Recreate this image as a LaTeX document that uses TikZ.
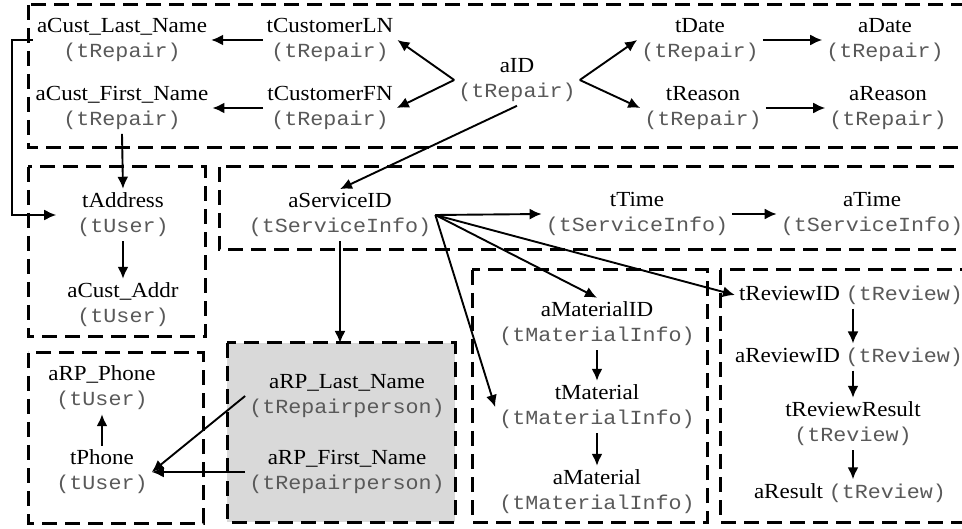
\documentclass[tikz,border=0pt]{standalone}
\usepackage{fontspec}
\setmainfont[FakeStretch=1.07]{Liberation Serif}
\setmonofont[FakeStretch=1.085]{Liberation Mono}
\usepackage{xcolor}
\usetikzlibrary{positioning,arrows.meta,calc}
\newcommand{\tbl}[1]{{\ttfamily\fontsize{20}{25}\selectfont\color{black!65}#1}}

\begin{document}
\begin{tikzpicture}[
  x=1pt,y=-1pt,
  >={Latex[length=12pt,width=11pt]},
  %--- node styles ---
  attr/.style   ={font=\fontsize{21.5}{25}\selectfont,text=black,align=center,inner sep=4pt},
  grp/.style    ={draw=black,line width=3pt,dash pattern=on 15pt off 8pt},
  grpgray/.style={grp,fill=black!15},
  %--- arrow styles ---
  link/.style   ={->,line width=1.9pt,draw=black},
]
\useasboundingbox (0,0) rectangle (962,529);

%==================== group boxes ====================
\draw[grp]     (28,5)    rectangle (975,148);
\draw[grp]     (28,167)  rectangle (205,337);
\draw[grp]     (219,167) rectangle (975,250);
\draw[grp]     (28,353)  rectangle (203,523);
\draw[grpgray] (227,343) rectangle (455,522);
\draw[grp]     (472,270) rectangle (707,522);
\draw[grp]     (720,270) rectangle (975,522);
\coordinate (RPtop) at (340,343);

%==================== repair tier ====================
\node[attr] (LNa) at (122, 40) {aCust\_Last\_Name\\\tbl{(tRepair)}};
\node[attr] (FNa) at (122,108) {aCust\_First\_Name\\\tbl{(tRepair)}};
\node[attr] (LNt) at (330, 40) {tCustomerLN\\\tbl{(tRepair)}};
\node[attr] (FNt) at (330,108) {tCustomerFN\\\tbl{(tRepair)}};
\node[attr] (ID)  at (517, 80) {aID\\\tbl{(tRepair)}};
\node[attr] (Dt)  at (700, 40) {tDate\\\tbl{(tRepair)}};
\node[attr] (Da)  at (885, 40) {aDate\\\tbl{(tRepair)}};
\node[attr] (Rt)  at (703,108) {tReason\\\tbl{(tRepair)}};
\node[attr] (Ra)  at (888,108) {aReason\\\tbl{(tRepair)}};

%==================== user / service tier ====================
\node[attr] (ADt) at (123,215) {tAddress\\\tbl{(tUser)}};
\node[attr] (ADa) at (123,305) {aCust\_Addr\\\tbl{(tUser)}};
\node[attr] (SID) at (340,215) {aServiceID\\\tbl{(tServiceInfo)}};
\node[attr] (Tt)  at (637,214) {tTime\\\tbl{(tServiceInfo)}};
\node[attr] (Ta)  at (872,214) {aTime\\\tbl{(tServiceInfo)}};

%==================== repairperson / phone ====================
\node[attr] (PHa) at (102,388) {aRP\_Phone\\\tbl{(tUser)}};
\node[attr] (PHt) at (102,472) {tPhone\\\tbl{(tUser)}};
\node[attr] (RPL) at (347,396) {aRP\_Last\_Name\\\tbl{(tRepairperson)}};
\node[attr] (RPF) at (347,472) {aRP\_First\_Name\\\tbl{(tRepairperson)}};

%==================== material / review ====================
\node[attr] (MID) at (597,324) {aMaterialID\\\tbl{(tMaterialInfo)}};
\node[attr] (Mt)  at (597,407) {tMaterial\\\tbl{(tMaterialInfo)}};
\node[attr] (Ma)  at (597,492) {aMaterial\\\tbl{(tMaterialInfo)}};
\node[attr] (RVt) at (851,295) {tReviewID \tbl{(tReview)}};
\node[attr] (RVa) at (849,357) {aReviewID \tbl{(tReview)}};
\node[attr] (RRt) at (853,424) {tReviewResult\\\tbl{(tReview)}};
\node[attr] (RRa) at (850,493) {aResult \tbl{(tReview)}};

%==================== links ====================
\draw[link] (LNt) -- (LNa);
\draw[link] (FNt) -- (FNa);
\draw[link] (ID.west) -- (LNt.east);
\draw[link] (ID.west) -- (FNt.east);
\draw[link] (ID.east) -- (Dt.west);
\draw[link] (ID.east) -- (Rt.west);
\draw[link] (Dt) -- (Da);
\draw[link] (Rt) -- (Ra);
\draw[link] (ID.south) -- (SID.north);

\draw[link] (LNa.west) -- ++(-21,0) |- ([xshift=-17pt]ADt.west);
\draw[link] (FNa.south) -- (ADt.north);
\draw[link] (ADt) -- (ADa);

\draw[link] (SID.east) -- (Tt.west);
\draw[link] (Tt) -- (Ta);
\draw[link] (SID.east) -- (MID.north);
\draw[link] (SID.east) -- (RVt.west);
\draw[link] (SID.east) -- (Mt.west);
\draw[link] (SID.south) -- (RPtop);

\draw[link] (RPL.west) -- (PHt.east);
\draw[link] (RPF.west) -- (PHt.east);
\draw[link] (PHt) -- (PHa);

\draw[link] (MID) -- (Mt);
\draw[link] (Mt) -- (Ma);
\draw[link] (RVt.south -| RRt) -- (RVa.north -| RRt);
\draw[link] (RVa.south -| RRt) -- (RRt.north);
\draw[link] (RRt.south) -- (RRa.north -| RRt);

\end{tikzpicture}
\end{document}
